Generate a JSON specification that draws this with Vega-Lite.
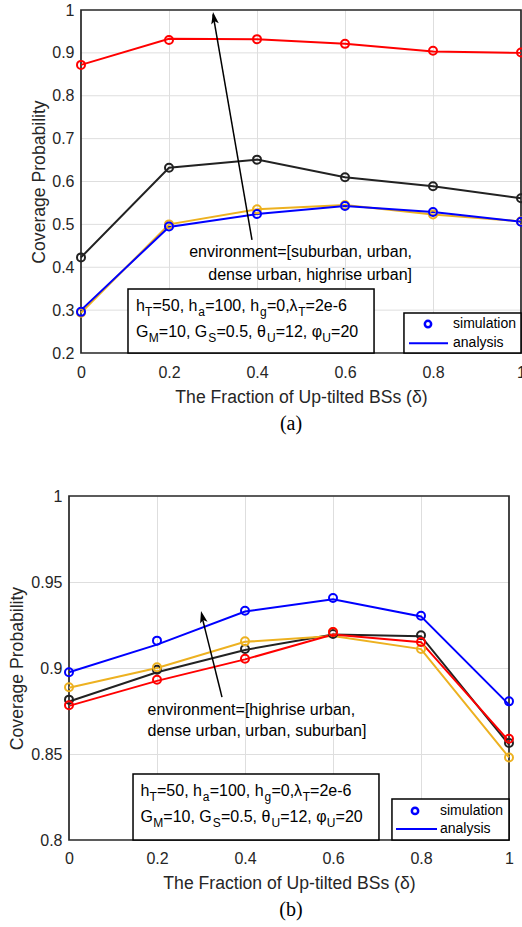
{
  "$schema": "https://vega.github.io/schema/vega-lite/v6.json",
  "background": "white",
  "padding": {"left": 5, "top": 2, "right": 0, "bottom": 0},
  "spacing": 54,
  "datasets": {
    "one": [{}],
    "gA": [{"g": 0.3}, {"g": 0.4}, {"g": 0.5}, {"g": 0.6}, {"g": 0.7}, {"g": 0.8}, {"g": 0.9}],
    "a": [
      {"env": "dense urban", "x": 0, "sim": 0.423, "ana": 0.423},
      {"env": "dense urban", "x": 0.2, "sim": 0.632, "ana": 0.632},
      {"env": "dense urban", "x": 0.4, "sim": 0.651, "ana": 0.651},
      {"env": "dense urban", "x": 0.6, "sim": 0.610, "ana": 0.610},
      {"env": "dense urban", "x": 0.8, "sim": 0.589, "ana": 0.589},
      {"env": "dense urban", "x": 1, "sim": 0.561, "ana": 0.561},
      {"env": "highrise urban", "x": 0, "sim": 0.872, "ana": 0.872},
      {"env": "highrise urban", "x": 0.2, "sim": 0.930, "ana": 0.933},
      {"env": "highrise urban", "x": 0.4, "sim": 0.932, "ana": 0.932},
      {"env": "highrise urban", "x": 0.6, "sim": 0.921, "ana": 0.921},
      {"env": "highrise urban", "x": 0.8, "sim": 0.905, "ana": 0.903},
      {"env": "highrise urban", "x": 1, "sim": 0.901, "ana": 0.900},
      {"env": "urban", "x": 0, "sim": 0.294, "ana": 0.294},
      {"env": "urban", "x": 0.2, "sim": 0.500, "ana": 0.500},
      {"env": "urban", "x": 0.4, "sim": 0.535, "ana": 0.535},
      {"env": "urban", "x": 0.6, "sim": 0.545, "ana": 0.545},
      {"env": "urban", "x": 0.8, "sim": 0.523, "ana": 0.523},
      {"env": "urban", "x": 1, "sim": 0.507, "ana": 0.507},
      {"env": "suburban", "x": 0, "sim": 0.296, "ana": 0.300},
      {"env": "suburban", "x": 0.2, "sim": 0.495, "ana": 0.494},
      {"env": "suburban", "x": 0.4, "sim": 0.524, "ana": 0.524},
      {"env": "suburban", "x": 0.6, "sim": 0.543, "ana": 0.543},
      {"env": "suburban", "x": 0.8, "sim": 0.529, "ana": 0.529},
      {"env": "suburban", "x": 1, "sim": 0.506, "ana": 0.506}
    ],
    "b": [
      {"env": "dense urban", "x": 0, "sim": 0.8816, "ana": 0.8805},
      {"env": "dense urban", "x": 0.2, "sim": 0.8990, "ana": 0.8975},
      {"env": "dense urban", "x": 0.4, "sim": 0.9110, "ana": 0.9105},
      {"env": "dense urban", "x": 0.6, "sim": 0.9198, "ana": 0.9195},
      {"env": "dense urban", "x": 0.8, "sim": 0.9190, "ana": 0.9185},
      {"env": "dense urban", "x": 1, "sim": 0.8564, "ana": 0.8555},
      {"env": "urban", "x": 0, "sim": 0.8888, "ana": 0.8885},
      {"env": "urban", "x": 0.2, "sim": 0.9004, "ana": 0.9000},
      {"env": "urban", "x": 0.4, "sim": 0.9155, "ana": 0.9152},
      {"env": "urban", "x": 0.6, "sim": 0.9209, "ana": 0.9186},
      {"env": "urban", "x": 0.8, "sim": 0.9110, "ana": 0.9110},
      {"env": "urban", "x": 1, "sim": 0.8480, "ana": 0.8480},
      {"env": "highrise urban", "x": 0, "sim": 0.8783, "ana": 0.8780},
      {"env": "highrise urban", "x": 0.2, "sim": 0.8932, "ana": 0.8925},
      {"env": "highrise urban", "x": 0.4, "sim": 0.9054, "ana": 0.9050},
      {"env": "highrise urban", "x": 0.6, "sim": 0.9209, "ana": 0.9195},
      {"env": "highrise urban", "x": 0.8, "sim": 0.9151, "ana": 0.9150},
      {"env": "highrise urban", "x": 1, "sim": 0.8589, "ana": 0.8575},
      {"env": "suburban", "x": 0, "sim": 0.8975, "ana": 0.8975},
      {"env": "suburban", "x": 0.2, "sim": 0.9159, "ana": 0.9136},
      {"env": "suburban", "x": 0.4, "sim": 0.9333, "ana": 0.9328},
      {"env": "suburban", "x": 0.6, "sim": 0.9407, "ana": 0.9400},
      {"env": "suburban", "x": 0.8, "sim": 0.9304, "ana": 0.9300},
      {"env": "suburban", "x": 1, "sim": 0.8806, "ana": 0.8787}
    ]
  },
  "vconcat": [
    {
      "width": 452,
      "height": 343,
      "title": {"text": "(a)", "orient": "bottom", "frame": "group", "anchor": "middle", "dx": -4, "font": "Liberation Serif", "fontSize": 20, "fontWeight": "normal", "color": "#000000", "offset": 8},
      "data": {"name": "one"},
      "layer": [
        {
          "data": {"name": "gA"},
          "mark": {"type": "rule", "color": "#dedede", "strokeWidth": 1},
          "encoding": {
            "y": {"field": "g", "type": "quantitative"},
            "x": {"datum": 0, "type": "quantitative"},
            "x2": {"datum": 1}
          }
        },
        {"mark": {"type": "rect", "fill": null, "fillOpacity": 0, "stroke": "#262626", "strokeWidth": 1.7}, "encoding": {"x": {"datum": 0, "type": "quantitative"}, "x2": {"datum": 1}, "y": {"datum": 1, "type": "quantitative"}, "y2": {"datum": 0.2}}},
        {
          "data": {"name": "a"},
          "mark": {"type": "line", "strokeWidth": 2},
          "encoding": {
            "x": {"field": "x", "type": "quantitative", "scale": {"domain": [0, 1], "range": [12, 452], "nice": false, "zero": false},
              "axis": {"title": "The Fraction of Up-tilted BSs (δ)", "values": [0, 0.2, 0.4, 0.6, 0.8, 1], "format": ".1~f", "ticks": false, "labelPadding": 11, "labelFlush": false, "titlePadding": 8, "titleX": 232,
                "gridOpacity": {"condition": {"test": "datum.value <= 0.001 || datum.value >= 0.999", "value": 0}, "value": 1}}},
            "y": {"field": "ana", "type": "quantitative", "scale": {"domain": [0.2, 1], "nice": false, "zero": false},
              "axis": {"title": "Coverage Probability", "values": [0.2, 0.3, 0.4, 0.5, 0.6, 0.7, 0.8, 0.9, 1], "format": ".2~f", "ticks": false, "grid": false, "labelPadding": -5, "titleX": -20.5, "titleY": 171.5, "titleAngle": 270, "titleBaseline": "bottom", "titleAlign": "center"}},
            "color": {"field": "env", "type": "nominal", "scale": {"domain": ["suburban", "urban", "dense urban", "highrise urban"], "range": ["#0000FF", "#EDB120", "#222222", "#FF0000"]}, "legend": null}
          }
        },
        {
          "data": {"name": "a"},
          "mark": {"type": "point", "filled": false, "strokeWidth": 2, "size": 64, "opacity": 1},
          "encoding": {
            "x": {"field": "x", "type": "quantitative"},
            "y": {"field": "sim", "type": "quantitative"},
            "color": {"field": "env", "type": "nominal", "legend": null}
          }
        },
        {"mark": {"type": "rule", "color": "#000000", "strokeWidth": 1.5}, "encoding": {"x": {"datum": 0.3886, "type": "quantitative"}, "y": {"datum": 0.4636, "type": "quantitative"}, "x2": {"datum": 0.3}, "y2": {"datum": 0.99}}},
        {"mark": {"type": "point", "shape": "M0,0L-0.35,1.1L0,0.85L0.35,1.1Z", "filled": true, "color": "#000000", "opacity": 1, "size": 475, "angle": -9.7, "strokeWidth": 0}, "encoding": {"x": {"datum": 0.3, "type": "quantitative"}, "y": {"datum": 0.9953, "type": "quantitative"}}},
        {"mark": {"type": "text", "text": "environment=[suburban, urban,", "align": "right", "baseline": "middle", "fontSize": 16, "color": "#000000"}, "encoding": {"x": {"datum": 0.7523, "type": "quantitative"}, "y": {"datum": 0.4356, "type": "quantitative"}}},
        {"mark": {"type": "text", "text": "dense urban, highrise urban]", "align": "right", "baseline": "middle", "fontSize": 16, "color": "#000000"}, "encoding": {"x": {"datum": 0.7523, "type": "quantitative"}, "y": {"datum": 0.3819, "type": "quantitative"}}},
        {"mark": {"type": "rect", "fill": "#FFFFFF", "stroke": "#000000", "strokeWidth": 1.5}, "encoding": {"x": {"datum": 0.1068, "type": "quantitative"}, "x2": {"datum": 0.666}, "y": {"datum": 0.349, "type": "quantitative"}, "y2": {"datum": 0.2}}},
        {"mark": {"type": "text", "text": "h", "align": "left", "baseline": "alphabetic", "fontSize": 16, "dx": 0, "color": "#000000"}, "encoding": {"x": {"datum": 0.125, "type": "quantitative"}, "y": {"datum": 0.298, "type": "quantitative"}}},
        {"mark": {"type": "text", "text": "T", "align": "left", "baseline": "alphabetic", "fontSize": 12, "dx": 9.1, "dy": 5, "color": "#000000"}, "encoding": {"x": {"datum": 0.125, "type": "quantitative"}, "y": {"datum": 0.298, "type": "quantitative"}}},
        {"mark": {"type": "text", "text": "=50, h", "align": "left", "baseline": "alphabetic", "fontSize": 16, "dx": 16.5, "color": "#000000"}, "encoding": {"x": {"datum": 0.125, "type": "quantitative"}, "y": {"datum": 0.298, "type": "quantitative"}}},
        {"mark": {"type": "text", "text": "a", "align": "left", "baseline": "alphabetic", "fontSize": 12, "dx": 62.3, "dy": 5, "color": "#000000"}, "encoding": {"x": {"datum": 0.125, "type": "quantitative"}, "y": {"datum": 0.298, "type": "quantitative"}}},
        {"mark": {"type": "text", "text": "=100, h", "align": "left", "baseline": "alphabetic", "fontSize": 16, "dx": 69.2, "color": "#000000"}, "encoding": {"x": {"datum": 0.125, "type": "quantitative"}, "y": {"datum": 0.298, "type": "quantitative"}}},
        {"mark": {"type": "text", "text": "g", "align": "left", "baseline": "alphabetic", "fontSize": 12, "dx": 124, "dy": 5, "color": "#000000"}, "encoding": {"x": {"datum": 0.125, "type": "quantitative"}, "y": {"datum": 0.298, "type": "quantitative"}}},
        {"mark": {"type": "text", "text": "=0,λ", "align": "left", "baseline": "alphabetic", "fontSize": 16, "dx": 130.9, "color": "#000000"}, "encoding": {"x": {"datum": 0.125, "type": "quantitative"}, "y": {"datum": 0.298, "type": "quantitative"}}},
        {"mark": {"type": "text", "text": "T", "align": "left", "baseline": "alphabetic", "fontSize": 12, "dx": 162.2, "dy": 5, "color": "#000000"}, "encoding": {"x": {"datum": 0.125, "type": "quantitative"}, "y": {"datum": 0.298, "type": "quantitative"}}},
        {"mark": {"type": "text", "text": "=2e-6", "align": "left", "baseline": "alphabetic", "fontSize": 16, "dx": 169.6, "color": "#000000"}, "encoding": {"x": {"datum": 0.125, "type": "quantitative"}, "y": {"datum": 0.298, "type": "quantitative"}}},
        {"mark": {"type": "text", "text": "G", "align": "left", "baseline": "alphabetic", "fontSize": 16, "dx": 0, "color": "#000000"}, "encoding": {"x": {"datum": 0.125, "type": "quantitative"}, "y": {"datum": 0.2362, "type": "quantitative"}}},
        {"mark": {"type": "text", "text": "M", "align": "left", "baseline": "alphabetic", "fontSize": 12, "dx": 12.7, "dy": 5, "color": "#000000"}, "encoding": {"x": {"datum": 0.125, "type": "quantitative"}, "y": {"datum": 0.2362, "type": "quantitative"}}},
        {"mark": {"type": "text", "text": "=10, G", "align": "left", "baseline": "alphabetic", "fontSize": 16, "dx": 22.8, "color": "#000000"}, "encoding": {"x": {"datum": 0.125, "type": "quantitative"}, "y": {"datum": 0.2362, "type": "quantitative"}}},
        {"mark": {"type": "text", "text": "S", "align": "left", "baseline": "alphabetic", "fontSize": 12, "dx": 72.3, "dy": 5, "color": "#000000"}, "encoding": {"x": {"datum": 0.125, "type": "quantitative"}, "y": {"datum": 0.2362, "type": "quantitative"}}},
        {"mark": {"type": "text", "text": "=0.5, θ", "align": "left", "baseline": "alphabetic", "fontSize": 16, "dx": 80.5, "color": "#000000"}, "encoding": {"x": {"datum": 0.125, "type": "quantitative"}, "y": {"datum": 0.2362, "type": "quantitative"}}},
        {"mark": {"type": "text", "text": "U", "align": "left", "baseline": "alphabetic", "fontSize": 12, "dx": 130.9, "dy": 5, "color": "#000000"}, "encoding": {"x": {"datum": 0.125, "type": "quantitative"}, "y": {"datum": 0.2362, "type": "quantitative"}}},
        {"mark": {"type": "text", "text": "=12, φ", "align": "left", "baseline": "alphabetic", "fontSize": 16, "dx": 139.7, "color": "#000000"}, "encoding": {"x": {"datum": 0.125, "type": "quantitative"}, "y": {"datum": 0.2362, "type": "quantitative"}}},
        {"mark": {"type": "text", "text": "U", "align": "left", "baseline": "alphabetic", "fontSize": 12, "dx": 186.3, "dy": 5, "color": "#000000"}, "encoding": {"x": {"datum": 0.125, "type": "quantitative"}, "y": {"datum": 0.2362, "type": "quantitative"}}},
        {"mark": {"type": "text", "text": "=20", "align": "left", "baseline": "alphabetic", "fontSize": 16, "dx": 195.1, "color": "#000000"}, "encoding": {"x": {"datum": 0.125, "type": "quantitative"}, "y": {"datum": 0.2362, "type": "quantitative"}}},
        {"mark": {"type": "rect", "fill": "#FFFFFF", "stroke": "#000000", "strokeWidth": 1.5}, "encoding": {"x": {"datum": 0.734, "type": "quantitative"}, "x2": {"datum": 1}, "y": {"datum": 0.2933, "type": "quantitative"}, "y2": {"datum": 0.2}}},
        {"mark": {"type": "point", "shape": "circle", "filled": false, "color": "#0000FF", "opacity": 1, "strokeWidth": 2.5, "size": 40}, "encoding": {"x": {"datum": 0.7886, "type": "quantitative"}, "y": {"datum": 0.2676, "type": "quantitative"}}},
        {"mark": {"type": "rule", "color": "#0000FF", "strokeWidth": 2}, "encoding": {"x": {"datum": 0.7455, "type": "quantitative"}, "x2": {"datum": 0.8341}, "y": {"datum": 0.2226, "type": "quantitative"}}},
        {"mark": {"type": "text", "text": "simulation", "align": "left", "baseline": "middle", "fontSize": 14, "color": "#000000"}, "encoding": {"x": {"datum": 0.8455, "type": "quantitative"}, "y": {"datum": 0.2676, "type": "quantitative"}}},
        {"mark": {"type": "text", "text": "analysis", "align": "left", "baseline": "middle", "fontSize": 14, "color": "#000000"}, "encoding": {"x": {"datum": 0.8455, "type": "quantitative"}, "y": {"datum": 0.2226, "type": "quantitative"}}}
      ]
    },
    {
      "width": 440,
      "height": 344,
      "title": {"text": "(b)", "orient": "bottom", "frame": "group", "anchor": "middle", "dx": 2, "font": "Liberation Serif", "fontSize": 20, "fontWeight": "normal", "color": "#000000", "offset": 8},
      "data": {"name": "one"},
      "layer": [
        {"mark": {"type": "rect", "fill": null, "fillOpacity": 0, "stroke": "#262626", "strokeWidth": 1.7}, "encoding": {"x": {"datum": 0, "type": "quantitative"}, "x2": {"datum": 1}, "y": {"datum": 1, "type": "quantitative"}, "y2": {"datum": 0.8}}},
        {
          "data": {"name": "b"},
          "mark": {"type": "line", "strokeWidth": 2},
          "encoding": {
            "x": {"field": "x", "type": "quantitative", "scale": {"domain": [0, 1], "nice": false, "zero": false},
              "axis": {"title": "The Fraction of Up-tilted BSs (δ)", "values": [0, 0.2, 0.4, 0.6, 0.8, 1], "format": ".1~f", "ticks": false, "labelPadding": 10.5, "labelFlush": false, "titlePadding": 8,
                "gridOpacity": {"condition": {"test": "datum.value <= 0.001 || datum.value >= 0.999", "value": 0}, "value": 1}}},
            "y": {"field": "ana", "type": "quantitative", "scale": {"domain": [0.8, 1], "nice": false, "zero": false},
              "axis": {"title": "Coverage Probability", "values": [0.8, 0.85, 0.9, 0.95, 1], "format": ".2~f", "ticks": true, "tickSize": 64, "tickOpacity": 0, "labelPadding": -57, "titleX": -42.5, "titleY": 172, "titleAngle": 270, "titleBaseline": "bottom", "titleAlign": "center",
                "gridOpacity": {"condition": {"test": "datum.value <= 0.801 || datum.value >= 0.999", "value": 0}, "value": 1}}},
            "color": {"field": "env", "type": "nominal", "scale": {"domain": ["suburban", "urban", "dense urban", "highrise urban"], "range": ["#0000FF", "#EDB120", "#222222", "#FF0000"]}, "legend": null}
          }
        },
        {
          "data": {"name": "b"},
          "mark": {"type": "point", "filled": false, "strokeWidth": 2, "size": 64, "opacity": 1},
          "encoding": {
            "x": {"field": "x", "type": "quantitative"},
            "y": {"field": "sim", "type": "quantitative"},
            "color": {"field": "env", "type": "nominal", "legend": null}
          }
        },
        {"mark": {"type": "rule", "color": "#000000", "strokeWidth": 1.5}, "encoding": {"x": {"datum": 0.3477, "type": "quantitative"}, "y": {"datum": 0.8831, "type": "quantitative"}, "x2": {"datum": 0.302}, "y2": {"datum": 0.93}}},
        {"mark": {"type": "point", "shape": "M0,0L-0.35,1.1L0,0.85L0.35,1.1Z", "filled": true, "color": "#000000", "opacity": 1, "size": 475, "angle": -13.7, "strokeWidth": 0}, "encoding": {"x": {"datum": 0.3, "type": "quantitative"}, "y": {"datum": 0.9331, "type": "quantitative"}}},
        {"mark": {"type": "text", "text": "environment=[highrise urban,", "align": "left", "baseline": "middle", "fontSize": 16, "color": "#000000"}, "encoding": {"x": {"datum": 0.1784, "type": "quantitative"}, "y": {"datum": 0.8756, "type": "quantitative"}}},
        {"mark": {"type": "text", "text": "dense urban, urban, suburban]", "align": "left", "baseline": "middle", "fontSize": 16, "color": "#000000"}, "encoding": {"x": {"datum": 0.1784, "type": "quantitative"}, "y": {"datum": 0.8634, "type": "quantitative"}}},
        {"mark": {"type": "rect", "fill": "#FFFFFF", "stroke": "#000000", "strokeWidth": 1.5}, "encoding": {"x": {"datum": 0.1455, "type": "quantitative"}, "x2": {"datum": 0.7045}, "y": {"datum": 0.8384, "type": "quantitative"}, "y2": {"datum": 0.8}}},
        {"mark": {"type": "text", "text": "h", "align": "left", "baseline": "alphabetic", "fontSize": 16, "dx": 0, "color": "#000000"}, "encoding": {"x": {"datum": 0.1625, "type": "quantitative"}, "y": {"datum": 0.8258, "type": "quantitative"}}},
        {"mark": {"type": "text", "text": "T", "align": "left", "baseline": "alphabetic", "fontSize": 12, "dx": 9.1, "dy": 5, "color": "#000000"}, "encoding": {"x": {"datum": 0.1625, "type": "quantitative"}, "y": {"datum": 0.8258, "type": "quantitative"}}},
        {"mark": {"type": "text", "text": "=50, h", "align": "left", "baseline": "alphabetic", "fontSize": 16, "dx": 16.5, "color": "#000000"}, "encoding": {"x": {"datum": 0.1625, "type": "quantitative"}, "y": {"datum": 0.8258, "type": "quantitative"}}},
        {"mark": {"type": "text", "text": "a", "align": "left", "baseline": "alphabetic", "fontSize": 12, "dx": 62.3, "dy": 5, "color": "#000000"}, "encoding": {"x": {"datum": 0.1625, "type": "quantitative"}, "y": {"datum": 0.8258, "type": "quantitative"}}},
        {"mark": {"type": "text", "text": "=100, h", "align": "left", "baseline": "alphabetic", "fontSize": 16, "dx": 69.2, "color": "#000000"}, "encoding": {"x": {"datum": 0.1625, "type": "quantitative"}, "y": {"datum": 0.8258, "type": "quantitative"}}},
        {"mark": {"type": "text", "text": "g", "align": "left", "baseline": "alphabetic", "fontSize": 12, "dx": 124, "dy": 5, "color": "#000000"}, "encoding": {"x": {"datum": 0.1625, "type": "quantitative"}, "y": {"datum": 0.8258, "type": "quantitative"}}},
        {"mark": {"type": "text", "text": "=0,λ", "align": "left", "baseline": "alphabetic", "fontSize": 16, "dx": 130.9, "color": "#000000"}, "encoding": {"x": {"datum": 0.1625, "type": "quantitative"}, "y": {"datum": 0.8258, "type": "quantitative"}}},
        {"mark": {"type": "text", "text": "T", "align": "left", "baseline": "alphabetic", "fontSize": 12, "dx": 162.2, "dy": 5, "color": "#000000"}, "encoding": {"x": {"datum": 0.1625, "type": "quantitative"}, "y": {"datum": 0.8258, "type": "quantitative"}}},
        {"mark": {"type": "text", "text": "=2e-6", "align": "left", "baseline": "alphabetic", "fontSize": 16, "dx": 169.6, "color": "#000000"}, "encoding": {"x": {"datum": 0.1625, "type": "quantitative"}, "y": {"datum": 0.8258, "type": "quantitative"}}},
        {"mark": {"type": "text", "text": "G", "align": "left", "baseline": "alphabetic", "fontSize": 16, "dx": 0, "color": "#000000"}, "encoding": {"x": {"datum": 0.1625, "type": "quantitative"}, "y": {"datum": 0.8103, "type": "quantitative"}}},
        {"mark": {"type": "text", "text": "M", "align": "left", "baseline": "alphabetic", "fontSize": 12, "dx": 12.7, "dy": 5, "color": "#000000"}, "encoding": {"x": {"datum": 0.1625, "type": "quantitative"}, "y": {"datum": 0.8103, "type": "quantitative"}}},
        {"mark": {"type": "text", "text": "=10, G", "align": "left", "baseline": "alphabetic", "fontSize": 16, "dx": 22.8, "color": "#000000"}, "encoding": {"x": {"datum": 0.1625, "type": "quantitative"}, "y": {"datum": 0.8103, "type": "quantitative"}}},
        {"mark": {"type": "text", "text": "S", "align": "left", "baseline": "alphabetic", "fontSize": 12, "dx": 72.3, "dy": 5, "color": "#000000"}, "encoding": {"x": {"datum": 0.1625, "type": "quantitative"}, "y": {"datum": 0.8103, "type": "quantitative"}}},
        {"mark": {"type": "text", "text": "=0.5, θ", "align": "left", "baseline": "alphabetic", "fontSize": 16, "dx": 80.5, "color": "#000000"}, "encoding": {"x": {"datum": 0.1625, "type": "quantitative"}, "y": {"datum": 0.8103, "type": "quantitative"}}},
        {"mark": {"type": "text", "text": "U", "align": "left", "baseline": "alphabetic", "fontSize": 12, "dx": 130.9, "dy": 5, "color": "#000000"}, "encoding": {"x": {"datum": 0.1625, "type": "quantitative"}, "y": {"datum": 0.8103, "type": "quantitative"}}},
        {"mark": {"type": "text", "text": "=12, φ", "align": "left", "baseline": "alphabetic", "fontSize": 16, "dx": 139.7, "color": "#000000"}, "encoding": {"x": {"datum": 0.1625, "type": "quantitative"}, "y": {"datum": 0.8103, "type": "quantitative"}}},
        {"mark": {"type": "text", "text": "U", "align": "left", "baseline": "alphabetic", "fontSize": 12, "dx": 186.3, "dy": 5, "color": "#000000"}, "encoding": {"x": {"datum": 0.1625, "type": "quantitative"}, "y": {"datum": 0.8103, "type": "quantitative"}}},
        {"mark": {"type": "text", "text": "=20", "align": "left", "baseline": "alphabetic", "fontSize": 16, "dx": 195.1, "color": "#000000"}, "encoding": {"x": {"datum": 0.1625, "type": "quantitative"}, "y": {"datum": 0.8103, "type": "quantitative"}}},
        {"mark": {"type": "rect", "fill": "#FFFFFF", "stroke": "#000000", "strokeWidth": 1.5}, "encoding": {"x": {"datum": 0.734, "type": "quantitative"}, "x2": {"datum": 1}, "y": {"datum": 0.8238, "type": "quantitative"}, "y2": {"datum": 0.8}}},
        {"mark": {"type": "point", "shape": "circle", "filled": false, "color": "#0000FF", "opacity": 1, "strokeWidth": 2.5, "size": 40}, "encoding": {"x": {"datum": 0.7864, "type": "quantitative"}, "y": {"datum": 0.8169, "type": "quantitative"}}},
        {"mark": {"type": "rule", "color": "#0000FF", "strokeWidth": 2}, "encoding": {"x": {"datum": 0.7432, "type": "quantitative"}, "x2": {"datum": 0.8364}, "y": {"datum": 0.8064, "type": "quantitative"}}},
        {"mark": {"type": "text", "text": "simulation", "align": "left", "baseline": "middle", "fontSize": 14, "color": "#000000"}, "encoding": {"x": {"datum": 0.8432, "type": "quantitative"}, "y": {"datum": 0.8169, "type": "quantitative"}}},
        {"mark": {"type": "text", "text": "analysis", "align": "left", "baseline": "middle", "fontSize": 14, "color": "#000000"}, "encoding": {"x": {"datum": 0.8432, "type": "quantitative"}, "y": {"datum": 0.8064, "type": "quantitative"}}}
      ]
    }
  ],
  "config": {
    "font": "Liberation Sans",
    "view": {"stroke": null},
    "axis": {"labelFont": "Liberation Sans", "titleFont": "Liberation Sans", "labelFontSize": 16, "titleFontSize": 17.6, "titleFontWeight": "normal", "labelColor": "#262626", "titleColor": "#262626", "domain": false, "grid": true, "gridColor": "#dedede", "gridWidth": 1},
    "text": {"font": "Liberation Sans"}
  }
}
